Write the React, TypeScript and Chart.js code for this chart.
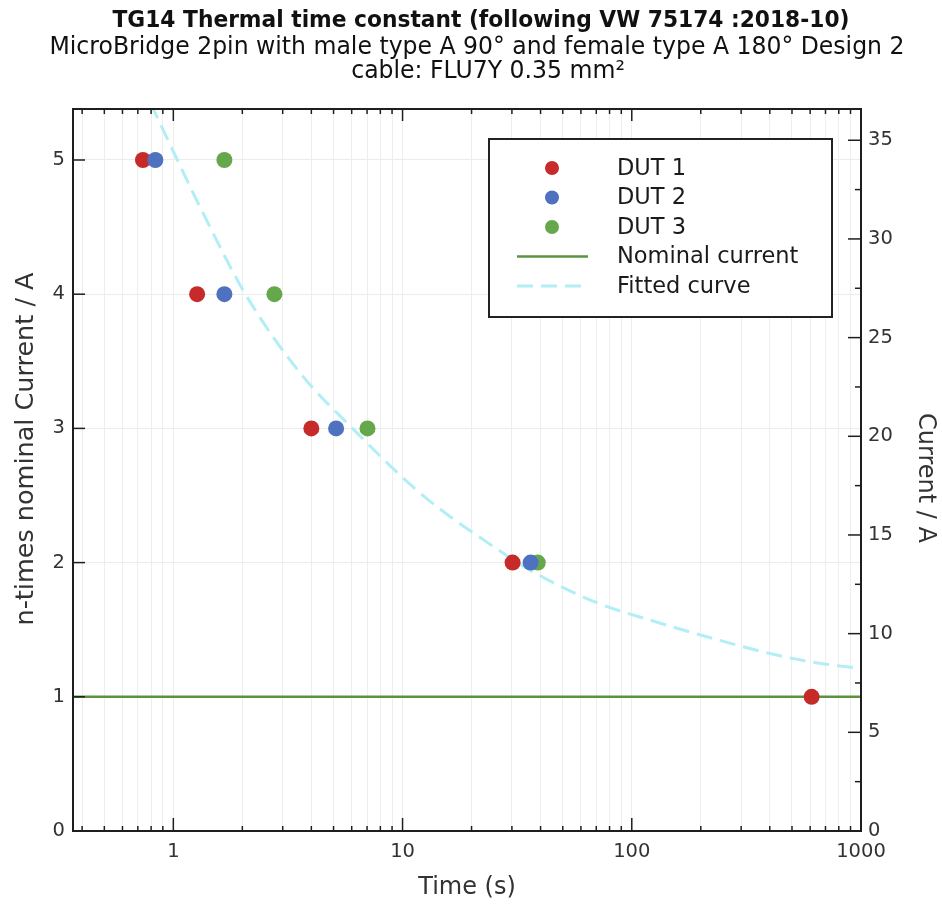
import React, { useEffect, useRef } from "react";
import { Chart, registerables } from "chart.js";

Chart.register(...registerables);

// ---------- text ----------
const TITLE = "TG14 Thermal time constant (following VW 75174 :2018-10)";
const SUBTITLE_1 = "MicroBridge 2pin with male type A 90° and female type A 180° Design 2";
const SUBTITLE_2 = "cable: FLU7Y 0.35 mm²";
const X_TITLE = "Time (s)";
const Y_TITLE = "n-times nominal Current / A";
const Y2_TITLE = "Current / A";

// ---------- data ----------
const DUT1_TIME = [0.737, 1.27, 4.0, 30.2, 609];
const DUT1_N = [5, 4, 3, 2, 1];
const DUT2_TIME = [0.835, 1.67, 5.13, 36.2];
const DUT2_N = [5, 4, 3, 2];
const DUT3_TIME = [1.67, 2.76, 7.03, 38.9];
const DUT3_N = [5, 4, 3, 2];
const NOMINAL_TIME = [0.365, 1000];
const NOMINAL_N = [1, 1];
const FIT_TIME = [0.718, 0.818, 1.041, 1.352, 2.063, 3.586, 6.05, 11.17, 16.2, 23, 31.8, 44.3, 73.2, 121, 200, 385, 605, 1000];
const FIT_N = [5.58, 5.38, 5.0, 4.6, 4.0, 3.41, 3.0, 2.56, 2.34, 2.16, 2.0, 1.86, 1.69, 1.57, 1.46, 1.33, 1.26, 1.21];

// ---------- axes ----------
const X_MIN = 0.365;
const X_MAX = 1000;
const Y_MAX = 5.38;
const NOMINAL_CURRENT_A = 6.8;
const X_MAJOR_TICKS = [1, 10, 100, 1000];
const X_MINOR_TICKS = [
  0.4, 0.5, 0.6, 0.7, 0.8, 0.9,
  2, 3, 4, 5, 6, 7, 8, 9,
  20, 30, 40, 50, 60, 70, 80, 90,
  200, 300, 400, 500, 600, 700, 800, 900,
];
const Y_TICKS = [0, 1, 2, 3, 4, 5];
const Y2_TICKS = [0, 5, 10, 15, 20, 25, 30, 35];
const Y2_MINOR_TICKS = [2.5, 7.5, 12.5, 17.5, 22.5, 27.5, 32.5];

const LABELS = ["DUT 1", "DUT 2", "DUT 3", "Nominal current", "Fitted curve"];
const COLORS = ["#c62b2a", "#4f72c0", "#64a84b", "#5a9440", "#b2eef6"];

const pts = (xs: number[], ys: number[]) => xs.map((x, i) => ({ x, y: ys[i] }));

const FONT = "'DejaVu Sans', Verdana, sans-serif";
const TITLE_FONT = "'DejaVu Sans', Verdana, sans-serif";

// draw centred text enlarged by `grow` relative to the size that fits `target`, squeezed back to `target` width
const drawFitted = (ctx: CanvasRenderingContext2D, text: string, weight: string, cx: number, cy: number, target: number, grow: number) => {
  ctx.save();
  ctx.font = `${weight} 20px ${TITLE_FONT}`;
  const w20 = ctx.measureText(text).width;
  const size = (20 * target * grow) / w20;
  ctx.font = `${weight} ${size}px ${TITLE_FONT}`;
  const w = ctx.measureText(text).width;
  ctx.translate(cx, cy);
  ctx.scale(target / w, 1);
  ctx.textAlign = "center";
  ctx.textBaseline = "middle";
  ctx.fillText(text, 0, 0);
  ctx.restore();
  return { size, sx: target / w };
};

const decorPlugin = {
  id: "decor",
  afterDatasetsDraw(chart: any) {
    const { ctx, chartArea: a, scales } = chart;
    const xs = scales.x, ys = scales.y, y2 = scales.y2;
    ctx.save();
    ctx.strokeStyle = "#1e1e1e";
    ctx.lineWidth = 1.5;
    const seg = (x1: number, y1: number, x2: number, y2p: number) => {
      ctx.beginPath();
      ctx.moveTo(x1, y1);
      ctx.lineTo(x2, y2p);
      ctx.stroke();
    };
    for (const v of X_MINOR_TICKS) {
      const p = xs.getPixelForValue(v);
      seg(p, a.bottom, p, a.bottom - 5);
      seg(p, a.top, p, a.top + 5);
    }
    for (const v of X_MAJOR_TICKS) {
      const p = xs.getPixelForValue(v);
      seg(p, a.bottom, p, a.bottom - 13);
      seg(p, a.top, p, a.top + 12);
    }
    for (const v of Y_TICKS) {
      const p = ys.getPixelForValue(v);
      seg(a.left, p, a.left + 12, p);
    }
    for (const v of Y2_TICKS) {
      const p = y2.getPixelForValue(v);
      seg(a.right, p, a.right - 13, p);
    }
    for (const v of Y2_MINOR_TICKS) {
      const p = y2.getPixelForValue(v);
      seg(a.right, p, a.right - 6, p);
    }
    ctx.lineWidth = 2;
    ctx.strokeRect(a.left, a.top, a.right - a.left, a.bottom - a.top);
    ctx.restore();
  },
  afterDraw(chart: any) {
    const { ctx, chartArea: a } = chart;
    ctx.save();
    // titles
    ctx.fillStyle = "#111";
    drawFitted(ctx, TITLE, "bold", 481, 21, 737, 1.08);
    const sub = drawFitted(ctx, SUBTITLE_1, "normal", 477, 48, 855, 1.05);
    ctx.save();
    ctx.font = `normal ${sub.size}px ${TITLE_FONT}`;
    ctx.translate(488, 72);
    ctx.scale(sub.sx, 1);
    ctx.textAlign = "center";
    ctx.textBaseline = "middle";
    ctx.fillText(SUBTITLE_2, 0, 0);
    ctx.restore();

    // axis titles (y)
    ctx.fillStyle = "#333";
    ctx.textAlign = "center";
    ctx.textBaseline = "middle";
    ctx.font = `25.5px ${FONT}`;
    ctx.save();
    ctx.translate(26, 449);
    ctx.rotate(-Math.PI / 2);
    ctx.fillText(Y_TITLE, 0, 0);
    ctx.restore();
    ctx.save();
    ctx.font = `24px ${FONT}`;
    ctx.translate(925, (a.top + a.bottom) / 2 + 8);
    ctx.rotate(Math.PI / 2);
    ctx.fillText(Y2_TITLE, 0, 0);
    ctx.restore();

    // legend
    const bx = 489, by = 139, bw = 343, bh = 178;
    ctx.fillStyle = "#ffffff";
    ctx.fillRect(bx, by, bw, bh);
    ctx.strokeStyle = "#222";
    ctx.lineWidth = 2;
    ctx.strokeRect(bx, by, bw, bh);
    const rowY0 = 168, rowDy = 29.5;
    chart.data.datasets.forEach((ds: any, i: number) => {
      const yy = rowY0 + i * rowDy;
      if (ds.showLine === false) {
        ctx.beginPath();
        ctx.fillStyle = ds.backgroundColor;
        ctx.arc(552, yy, 7, 0, Math.PI * 2);
        ctx.fill();
      } else {
        ctx.beginPath();
        ctx.strokeStyle = ds.borderColor;
        ctx.lineWidth = ds.borderWidth;
        ctx.setLineDash(ds.borderDash || []);
        ctx.moveTo(517, yy);
        ctx.lineTo(588, yy);
        ctx.stroke();
        ctx.setLineDash([]);
      }
      ctx.fillStyle = "#1a1a1a";
      ctx.textAlign = "left";
      ctx.textBaseline = "middle";
      ctx.font = `22.5px ${FONT}`;
      ctx.fillText(ds.label, 617, yy + 1);
    });
    ctx.restore();
  },
};

export default function App() {
  const ref = useRef<HTMLCanvasElement>(null);
  useEffect(() => {
    if (!ref.current) return;
    const scatter = (i: number, xs: number[], ys: number[], order: number) => ({
      type: "line" as const,
      label: LABELS[i],
      data: pts(xs, ys),
      showLine: false,
      backgroundColor: COLORS[i],
      borderColor: COLORS[i],
      pointRadius: 8,
      pointHoverRadius: 8,
      pointBorderWidth: 0,
      yAxisID: "y",
      order,
    });
    const chart = new Chart(ref.current, {
      type: "line",
      data: {
        datasets: [
          scatter(0, DUT1_TIME, DUT1_N, 3),
          scatter(1, DUT2_TIME, DUT2_N, 1),
          scatter(2, DUT3_TIME, DUT3_N, 2),
          {
            type: "line",
            label: LABELS[3],
            data: pts(NOMINAL_TIME, NOMINAL_N),
            showLine: true,
            borderColor: COLORS[3],
            borderWidth: 2.5,
            pointRadius: 0,
            yAxisID: "y",
            order: 10,
            clip: 0,
          } as any,
          {
            type: "line",
            label: LABELS[4],
            data: pts(FIT_TIME, FIT_N),
            showLine: true,
            borderColor: COLORS[4],
            borderWidth: 3,
            borderDash: [16, 8],
            cubicInterpolationMode: "monotone",
            pointRadius: 0,
            yAxisID: "y",
            order: 11,
            clip: 0,
          } as any,
        ],
      },
      options: {
        animation: false,
        responsive: false,
        events: [],
        layout: { padding: { top: 109, left: 0, right: 0, bottom: 0 } },
        plugins: {
          legend: { display: false },
          tooltip: { enabled: false },
          title: { display: false },
        },
        scales: {
          x: {
            type: "logarithmic",
            min: X_MIN,
            max: X_MAX,
            afterBuildTicks: (scale: any) => {
              const all = [...X_MINOR_TICKS, ...X_MAJOR_TICKS].sort((a, b) => a - b);
              scale.ticks = all.map((v) => ({ value: v, major: X_MAJOR_TICKS.includes(v) }));
            },
            afterFit: (scale: any) => {
              scale.height = 76;
            },
            ticks: {
              autoSkip: false,
              maxRotation: 0,
              padding: 9,
              color: "#333",
              font: { family: FONT, size: 19.5 },
              callback: (v: any) => (X_MAJOR_TICKS.includes(Number(v)) ? String(v) : ""),
            },
            grid: { color: "#eeeeee", lineWidth: 1, drawTicks: false },
            border: { display: false },
            title: {
              display: true,
              text: X_TITLE,
              color: "#333",
              font: { family: FONT, size: 24 },
              padding: { top: 0, bottom: 5 },
            },
          },
          y: {
            type: "linear",
            position: "left",
            min: 0,
            max: Y_MAX,
            afterBuildTicks: (scale: any) => {
              scale.ticks = Y_TICKS.map((v) => ({ value: v }));
            },
            afterFit: (scale: any) => {
              scale.width = 73;
            },
            ticks: {
              padding: 8,
              color: "#333",
              font: { family: FONT, size: 19.5 },
            },
            grid: { color: "#ececec", lineWidth: 1, drawTicks: false },
            border: { display: false },
            title: { display: false },
          },
          y2: {
            type: "linear",
            position: "right",
            min: 0,
            max: Y_MAX * NOMINAL_CURRENT_A,
            afterBuildTicks: (scale: any) => {
              scale.ticks = Y2_TICKS.map((v) => ({ value: v }));
            },
            afterFit: (scale: any) => {
              scale.width = 81;
            },
            ticks: {
              padding: 7,
              color: "#333",
              font: { family: FONT, size: 19.5 },
            },
            grid: { display: false, drawTicks: false },
            border: { display: false },
            title: { display: false },
          },
        },
      } as any,
      plugins: [decorPlugin],
    });
    return () => chart.destroy();
  }, []);

  return (
    <div style={{ position: "fixed", left: 0, top: 0, width: 942, height: 907, background: "#fff" }}>
      <canvas ref={ref} width={942} height={907} style={{ width: 942, height: 907, display: "block" }} />
    </div>
  );
}
